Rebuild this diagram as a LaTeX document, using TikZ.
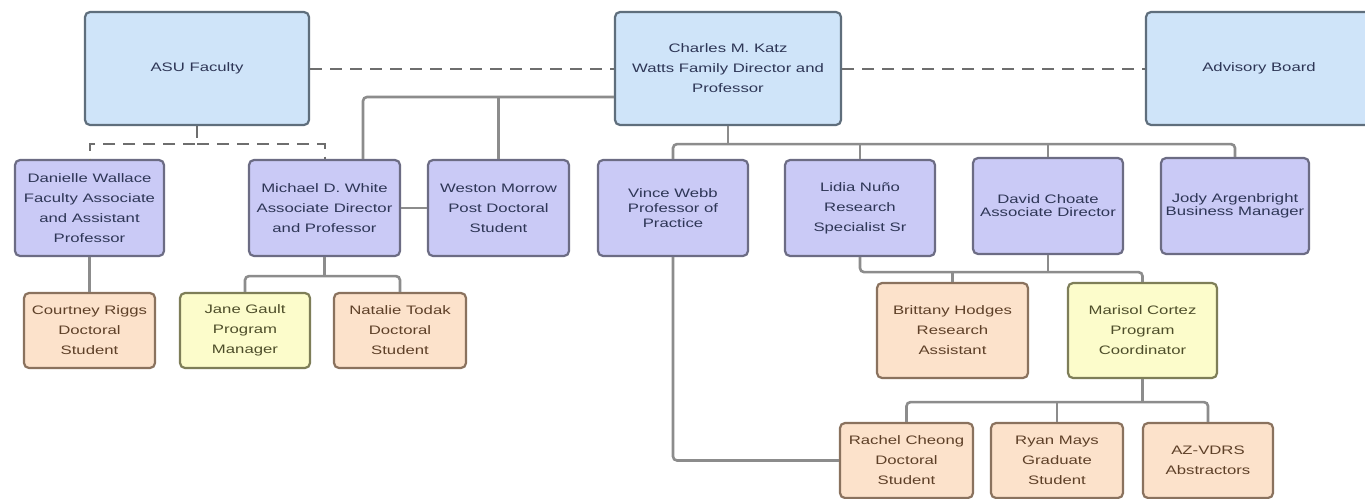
\documentclass[tikz,border=0pt]{standalone}
\usepackage{fontspec}
\setmainfont{Liberation Sans}[FakeStretch=1.36]
\begin{document}
\begin{tikzpicture}[x=1pt, y=-1pt,
    box/.style={draw, rounded corners=5pt, line width=2.2pt, align=center,
      inner sep=0pt, font=\fontsize{12.3}{20}\selectfont},
    topbox/.style={box, fill=topfill, draw=topline, text=toptext,
      minimum width=#1, minimum height=113pt},
    staffbox/.style={box, fill=stafffill, draw=staffline, text=toptext,
      minimum width=#1, minimum height=96pt},
    studbox/.style={box, fill=studfill, draw=studline, text=studtext,
      minimum width=#1, minimum height=75pt},
    coordbox/.style={box, fill=coordfill, draw=coordline, text=coordtext,
      minimum width=#1, minimum height=95pt},
    link/.style={draw=linkgray, line width=2.6pt, rounded corners=4pt},
    dashlink/.style={draw=dashgray, line width=2pt, dash pattern=on 12pt off 8pt}]
  \definecolor{topfill}{HTML}{CFE4F9}
  \definecolor{topline}{HTML}{5F6E7C}
  \definecolor{toptext}{HTML}{2E3656}
  \definecolor{stafffill}{HTML}{CACAF6}
  \definecolor{staffline}{HTML}{6C6C84}
  \definecolor{studfill}{HTML}{FCE2CB}
  \definecolor{studline}{HTML}{8A725E}
  \definecolor{studtext}{HTML}{5E4028}
  \definecolor{coordfill}{HTML}{FCFCCB}
  \definecolor{coordline}{HTML}{7E7E58}
  \definecolor{coordtext}{HTML}{4E4E2A}
  \definecolor{linkgray}{HTML}{8C8C8C}
  \definecolor{dashgray}{HTML}{6E6E6E}
  \useasboundingbox[fill=white] (0,0) rectangle (1365,498);

  % top row
  \node[topbox=224pt] (asu) at (197,68.5) {ASU Faculty};
  \node[topbox=226pt] (katz) at (728,68.5) {Charles M. Katz\\Watts Family Director and\\Professor};
  \node[topbox=226pt] (board) at (1259,68.5) {Advisory Board};

  % second row
  \node[staffbox=149pt] (wallace) at (89.5,208) {Danielle Wallace\\Faculty Associate\\and Assistant\\Professor};
  \node[staffbox=151pt] (white) at (324.5,208) {Michael D. White\\Associate Director\\and Professor};
  \node[staffbox=141pt] (morrow) at (498.5,208) {Weston Morrow\\Post Doctoral\\Student};
  \node[staffbox=150pt, font=\fontsize{12.3}{15}\selectfont] (webb) at (673,208) {Vince Webb\\Professor of\\Practice};
  \node[staffbox=150pt] (nuno) at (860,208) {Lidia Nuño\\Research\\Specialist Sr};
  \node[staffbox=150pt, font=\fontsize{12.3}{13}\selectfont] (choate) at (1048,206) {David Choate\\Associate Director};
  \node[staffbox=148pt, font=\fontsize{12.3}{13}\selectfont] (argenbright) at (1235,206) {Jody Argenbright\\Business Manager};

  % third row
  \node[studbox=131pt] (riggs) at (89.5,330.5) {Courtney Riggs\\Doctoral\\Student};
  \node[coordbox=130pt, minimum height=75pt] (gault) at (245,330.5) {Jane Gault\\Program\\Manager};
  \node[studbox=132pt] (todak) at (400,330.5) {Natalie Todak\\Doctoral\\Student};
  \node[studbox=151pt, minimum height=95pt] (hodges) at (952.5,330.5) {Brittany Hodges\\Research\\Assistant};
  \node[coordbox=149pt] (cortez) at (1142.5,330.5) {Marisol Cortez\\Program\\Coordinator};

  % bottom row
  \node[studbox=133pt] (cheong) at (906.5,460.5) {Rachel Cheong\\Doctoral\\Student};
  \node[studbox=132pt] (mays) at (1057,460.5) {Ryan Mays\\Graduate\\Student};
  \node[studbox=130pt] (azvdrs) at (1208,460.5) {AZ-VDRS\\Abstractors};

  % dashed links
  \draw[dashlink] (asu) -- (katz);
  \draw[dashlink] (katz) -- (board);
  \draw[dashlink] (asu.south) -- ++(0,18) coordinate (asubus) -| (wallace.north);
  \draw[dashlink] (asubus) -| (white.north);

  % solid links
  \coordinate (katzside) at ([yshift=-28.5pt]katz.west);
  \draw[link] (katzside) -| ([xshift=38.5pt]white.north);
  \draw[link] (morrow.north) -- (morrow.north |- katzside);
  \draw[link] (white.east) -- (morrow.west);
  \draw[link] (katz.south) -- ++(0,18) coordinate (katzbus);
  \draw[link] (webb.north) |- (katzbus) -| (argenbright.north);
  \draw[link] (nuno.north) -- (nuno.north |- katzbus);
  \draw[link] (choate.north) -- (choate.north |- katzbus);
  \draw[link] (wallace) -- (riggs);
  \draw[link] (white.south) -- ++(0,19) coordinate (whitebus);
  \draw[link] (gault.north) |- (whitebus) -| (todak.north);
  \draw[link] (nuno.south) -- ++(0,15) coordinate (nunobus) -| (cortez.north);
  \draw[link] (choate.south) -- (choate.south |- nunobus);
  \draw[link] (hodges.north) -- (hodges.north |- nunobus);
  \draw[link] (cortez.south) -- ++(0,23) coordinate (cortezbus);
  \draw[link] (cheong.north) |- (cortezbus) -| (azvdrs.north);
  \draw[link] (mays.north) -- (mays.north |- cortezbus);
  \draw[link] (webb.south) |- (cheong.west);
\end{tikzpicture}
\end{document}
